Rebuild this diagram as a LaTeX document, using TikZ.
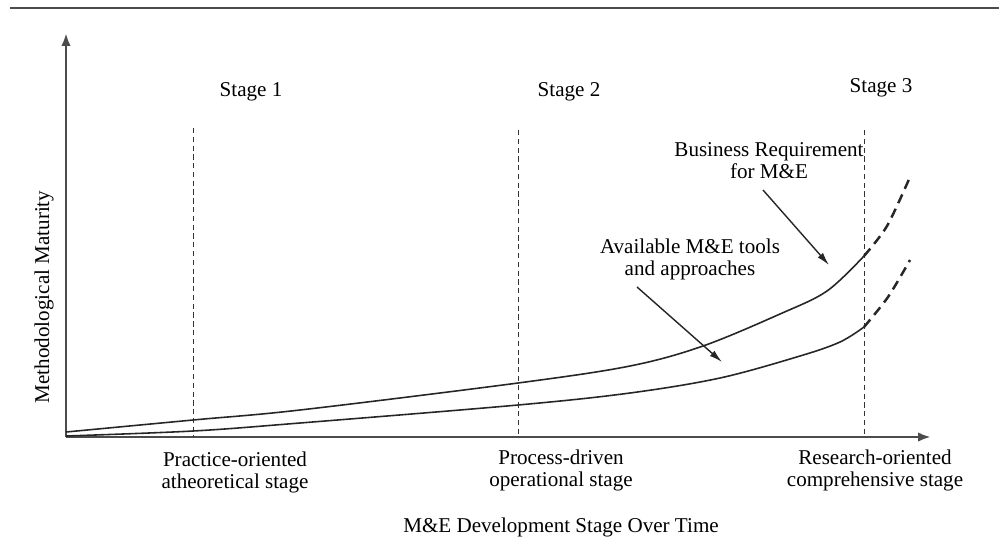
\documentclass[tikz,border=0pt]{standalone}
\usepackage{fontspec}
\setmainfont{Liberation Serif}
\usetikzlibrary{positioning}
\usetikzlibrary{arrows.meta}
\tikzset{
    axisline/.style = {line width=1.6pt,draw=black!70,-{Latex[length=2.6mm,width=1.9mm]}},
    stageline/.style = {line width=0.5pt,draw=black!80,densely dashed},
    curven/.style = {line width=0.9pt,draw=black!85},
    curved/.style = {line width=1.4pt,draw=black!85,dash pattern=on 5.5pt off 3.5pt}, % future trend
    pointer/.style = {line width=0.8pt,draw=black!85,-{Latex[length=2.6mm,width=1.4mm]}},
    lbl/.style = {align=center,inner sep=0pt,font=\fontsize{12}{12.5}\selectfont},
}

\begin{document}
\begin{tikzpicture}[x=0.02cm,y=-0.02cm]
\useasboundingbox (0,0) rectangle (999,541);
%
\draw[line width=1.7pt,black!70] (10,8) -- (999,8);
%
\coordinate (o) at (66,437);
\coordinate (ytop) at (66,33);
\coordinate (xend) at (931,437);
\draw[axisline] (o) -- (ytop);
\draw[axisline] (o) -- (xend);
%
\node[lbl] at (251,92) (s1) {Stage 1};
\node[lbl] at (569,92) (s2) {Stage 2};
\node[lbl] at (881,88) (s3) {Stage 3};
\coordinate (s1a) at (193,128); \coordinate (s1b) at (193,437);
\coordinate (s2a) at (518,130); \coordinate (s2b) at (518,437);
\coordinate (s3a) at (864,130); \coordinate (s3b) at (864,437);
\draw[stageline] (s1a) -- (s1b);
\draw[stageline] (s2a) -- (s2b);
\draw[stageline] (s3a) -- (s3b);
%
\node[lbl] at (235,472) (st1) {Practice-oriented\\atheoretical stage};
\node[lbl] at (561,470) (st2) {Process-driven\\operational stage};
\node[lbl] at (875,470) (st3) {Research-oriented\\comprehensive stage};
\node[lbl] at (561,527) (xlbl) {M\&E Development Stage Over Time};
\node[lbl,rotate=90] at (44,297) (ylbl) {Methodological Maturity};
%
\coordinate (bizend) at (864,256);
\coordinate (toolend) at (864,327);
\draw[curven] plot[smooth,tension=0.55] coordinates {(66,432) (193,420) (300,410) (518,383) (630,366) (703,346) (780,314) (827,291) (bizend)};
\draw[curven] plot[smooth,tension=0.55] coordinates {(66,436) (193,431) (300,423) (518,405) (630,393) (720,378) (800,356) (840,342) (toolend)};
\draw[curved] plot[smooth] coordinates {(bizend) (887,226) (910,177)};
\draw[curved] plot[smooth] coordinates {(toolend) (888,297) (910,260)};
%
\node[lbl] at (769,161) (biz) {Business Requirement\\for M\&E};
\node[lbl] at (690,259) (tool) {Available M\&E tools\\and approaches};
\coordinate (biza) at (763,190); \coordinate (bizb) at (829,265);
\coordinate (toola) at (637,287); \coordinate (toolb) at (722,362);
\draw[pointer] (biza) -- (bizb);
\draw[pointer] (toola) -- (toolb);

\end{tikzpicture}
\end{document}
